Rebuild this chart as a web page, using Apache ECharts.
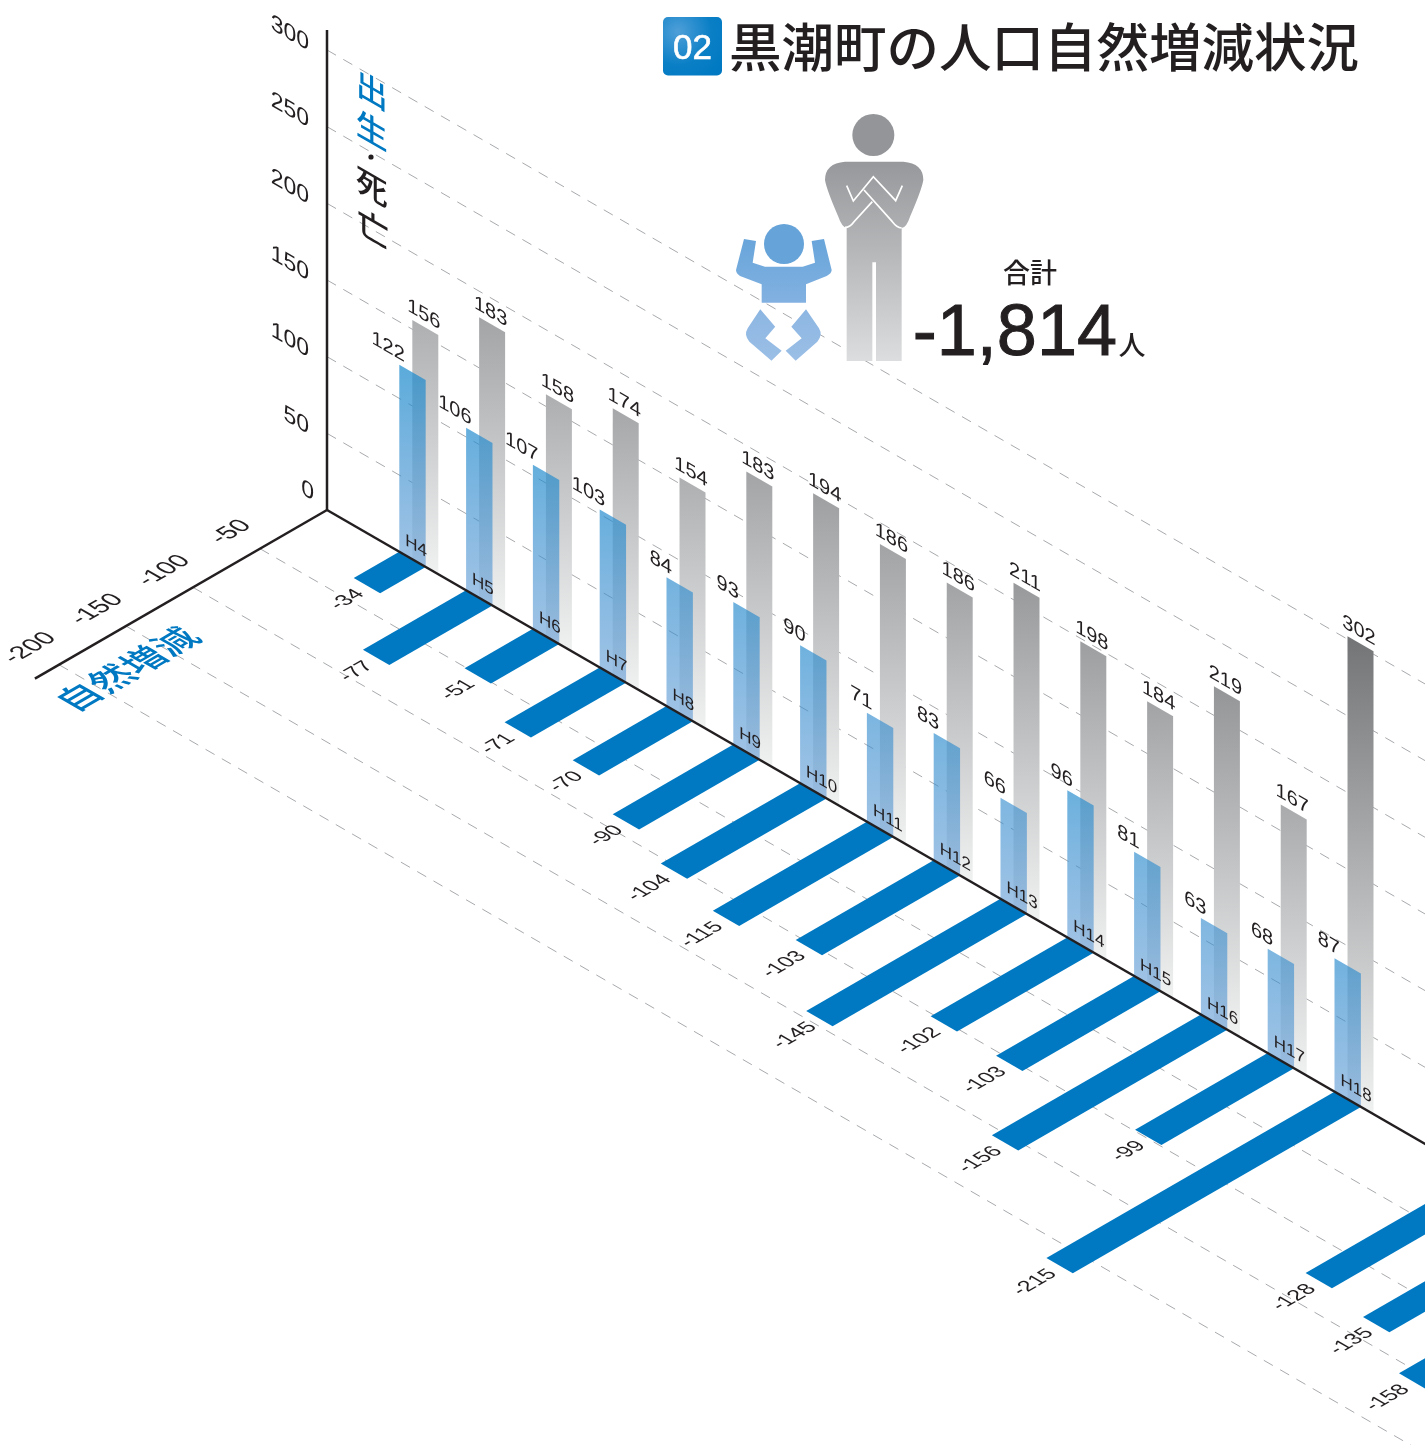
<!DOCTYPE html>
<html>
<head>
<meta charset="utf-8">
<style>html,body{margin:0;padding:0;background:#fff}#chart{width:1425px;height:1445px}</style>
<script src="https://cdn.jsdelivr.net/npm/echarts@6/dist/echarts.min.js"></script>
</head>
<body>
<div id="chart"></div>
<script>
// 年度(H18 と H19 の間は軸が途切れている)
const years = ['H4','H5','H6','H7','H8','H9','H10','H11','H12','H13','H14','H15','H16','H17','H18','','H19','H20','H21'];
const births = [122,106,107,103,84,93,90,71,83,66,96,81,63,68,87];
const deaths = [156,183,158,174,154,183,194,186,186,211,198,184,219,167,302];
const naturalChange = [-34,-77,-51,-71,-70,-90,-104,-115,-103,-145,-102,-103,-156,-99,-215,null,-128,-135,-158];
const planeTicks = [0,50,100,150,200,250,300];
const floorTicks = [-50,-100,-150,-200];
const titleText = '黒潮町の人口自然増減状況';
const totalText = '-1,814';

const OX = 327, OY = 510;
const TAN30 = Math.tan(Math.PI / 6), COS30 = Math.cos(Math.PI / 6);
const LATIN = '"Liberation Sans", "Noto Sans CJK JP", sans-serif';
const CJK = '"Noto Sans CJK JP", "Liberation Sans", sans-serif';
const INK = '#231f20', BLUE = '#0079c2', DASH = '#a8aaad';
const BREAK_SHIFT = 9;

// 立面: 縦はそのまま、横方向に 30° せん断
const wall = (p) => [p[0], p[1] + (p[0] - OX) * TAN30];
// 床面: カテゴリ軸は右下、値軸は左下へ 30°
const floor = (p) => {
  const u = p[0] - OX, w = p[1] - OY;
  return [OX + u - w * COS30, OY + u * TAN30 + w * 0.5];
};
const wallSkew = { skewY: -Math.PI / 6 };
const floorSkew = { scaleX: COS30, scaleY: 0.5, skewX: Math.PI / 3, skewY: Math.PI / 6 };

function label(pos, text, size, skew, extra) {
  return Object.assign({
    type: 'text', x: pos[0], y: pos[1],
    style: Object.assign({
      text, fill: INK, font: `${size}px ${LATIN}`, align: 'center', verticalAlign: 'middle'
    }, extra || {})
  }, skew || {});
}
function dashed(a, b) {
  return { type: 'line', shape: { x1: a[0], y1: a[1], x2: b[0], y2: b[1] },
    style: { stroke: DASH, lineWidth: 1, lineDash: [10.4, 8.4], fill: null } };
}
function solid(a, b) {
  return { type: 'line', shape: { x1: a[0], y1: a[1], x2: b[0], y2: b[1] },
    style: { stroke: INK, lineWidth: 2.5, fill: null } };
}
function quad(points, fill) {
  return { type: 'polygon', shape: { points }, style: { fill } };
}
function vGrad(top, bottom) {
  return new echarts.graphic.LinearGradient(0, 0, 0, 1, [
    { offset: 0, color: top }, { offset: 1, color: bottom }
  ]);
}
const mix = (a, b, t) => a + (b - a) * t;

function renderDeaths(params, api) {
  const i = api.value(0), v = api.value(1);
  const c = api.coord([i, 0]), top = api.coord([i, v])[1], bw = api.size([1, 0])[0];
  const l = c[0] - 0.097 * bw, r = c[0] + 0.292 * bw;
  const g = Math.round(236 - 0.4 * v);
  const poly = [[l, top], [r, top], [r, c[1]], [l, c[1]]].map(wall);
  return { type: 'group', children: [
    quad(poly, vGrad(`rgb(${g},${g + 1},${g + 3})`, '#f0f1f1')),
    label(wall([(l + r) / 2 - 1.5, top - 12]), String(v), 20, wallSkew)
  ] };
}
function renderBirths(params, api) {
  const i = api.value(0), v = api.value(1);
  const c = api.coord([i, 0]), top = api.coord([i, v])[1], bw = api.size([1, 0])[0];
  const l = c[0] - 0.292 * bw, r = c[0] + 0.103 * bw;
  const t = Math.min(1, v / 122);
  const poly = [[l, top], [r, top], [r, c[1]], [l, c[1]]].map(wall);
  const topCol = `rgba(${mix(84, 26, t)},${mix(146, 138, t)},${mix(209, 205, t)},${mix(0.55, 0.72, t)})`;
  return { type: 'group', children: [
    quad(poly, vGrad(topCol, 'rgba(84,146,209,0.55)')),
    label(wall([l + 5.5, top - 11]), String(v), 20, wallSkew, { align: 'right' }),
    label(wall([l + 6, c[1] - 15]), years[i], 17, wallSkew, { align: 'left' })
  ] };
}
function renderChange(params, api) {
  const i = api.value(0), v = api.value(1);
  const c = api.coord([i, 0]), tip = api.coord([i, v])[1], bw = api.size([1, 0])[0];
  const shift = i > 15 ? BREAK_SHIFT : 0;
  const l = c[0] - 0.292 * bw + shift, r = c[0] + 0.103 * bw + shift;
  const poly = [[l, c[1]], [r, c[1]], [r, tip], [l, tip]].map(floor);
  return { type: 'group', children: [
    quad(poly, BLUE),
    label(floor([(l + r) / 2 + 2, tip + 10]), String(v), 21, floorSkew, { align: 'right' })
  ] };
}
function renderWallGrid(params, api) {
  const v = api.value(1), a = api.coord([0, v]), far = api.coord([years.length - 1, v]);
  const kids = [];
  if (v !== 0) kids.push(dashed(wall([OX, a[1]]), wall([far[0] + 120, a[1]])));
  // 原点の 0 だけ軸の交点を避けて少し上へ
  const anchor = v === 0 ? [314, a[1] - 8] : [309, a[1] + 5];
  kids.push(label(wall(anchor), String(v), 23, wallSkew, { align: 'right' }));
  return { type: 'group', children: kids };
}
function renderFloorGrid(params, api) {
  const v = api.value(1), a = api.coord([0, v]), far = api.coord([years.length - 1, v]);
  return { type: 'group', children: [
    dashed(floor([OX, a[1]]), floor([far[0] + 400, a[1]])),
    label(floor([OX - 29, a[1]]), String(v), 25, floorSkew)
  ] };
}
function renderAxes(params, api) {
  const zero = api.coord([0, 0])[1];
  const far = api.coord([years.length - 1, 0])[0] + 200;
  return { type: 'group', children: [
    solid([OX, zero], [OX, api.coord([0, 313])[1]]),
    solid([OX, zero], wall([far, zero]))
  ] };
}
function renderAxisEnd(params, api) {
  return solid([OX, OY], floor([OX, api.coord([0, -218])[1]]));
}
// 軸タイトル(一文字ずつ縦に積む)
function renderAxisTitles() {
  const cjk = (pos, ch, size, fill, skew) =>
    label(pos, ch, size, skew, { font: `500 ${size}px ${CJK}`, fill });
  return { type: 'group', children: [
    cjk([371.7, 90], '出', 32, BLUE, wallSkew),
    cjk([371.7, 130], '生', 32, BLUE, wallSkew),
    { type: 'circle', shape: { cx: 371, cy: 157, r: 2.6 }, style: { fill: INK } },
    cjk([371.7, 186], '死', 32, INK, wallSkew),
    cjk([373, 228], '亡', 32, INK, wallSkew),
    cjk([127, 669], '自然増減', 37, BLUE, floorSkew)
  ] };
}
// 見出し番号と人物アイコン、合計
function renderDecor() {
  const s = 1 / 3, X = (v) => 650 + v * s, Y = (v) => v * s;
  const path = (d, x0, y0, x1, y1, fill, extra) => ({
    type: 'path',
    shape: { pathData: d, layout: 'cover', x: X(x0), y: Y(y0), width: (x1 - x0) * s, height: (y1 - y0) * s },
    style: Object.assign({ fill }, extra || {})
  });
  const white = (d, x0, y0, x1, y1) => path(d, x0, y0, x1, y1, null, { stroke: '#fff', lineWidth: 1.7, fill: null });
  return { type: 'group', children: [
    { type: 'rect', shape: { x: 663, y: 17, width: 59, height: 58.5, r: 5 },
      style: { fill: new echarts.graphic.RadialGradient(0.25, 0.25, 0.95, [
        { offset: 0, color: '#4f9fd8' }, { offset: 0.6, color: '#0a7fc6' }, { offset: 1, color: '#0079c2' }]) } },
    label([692.5, 49], '02', 35, null, { fill: '#fff', stroke: '#fff', lineWidth: 0.6 }),
    { type: 'circle', shape: { cx: X(670), cy: Y(405), r: 21 }, style: { fill: '#939598' } },
    path('M585 485L760 485Q820 490 820 540Q815 570 780 650Q770 682 755 684L755 1083L678 1083L678 787L667 787L667 1083L590 1083L590 684Q575 680 565 650Q530 570 525 540Q525 490 585 485Z',
      525, 485, 820, 1083, vGrad('#97989b', '#dcddde')),
    white('M590 557L610 603L670 530L737 602L757 557', 590, 530, 757, 603),
    white('M642 570L727 665Q740 682 755 684', 642, 570, 755, 684),
    white('M667 605L612 665Q600 682 585 682', 585, 605, 667, 682),
    { type: 'circle', shape: { cx: X(402), cy: Y(732), r: 20 }, style: { fill: '#65a3d9' } },
    path('M282 717L318 723L308 788L345 800L458 800L495 788L485 723L522 717L545 810Q545 820 530 828L468 853L468 908L335 908L335 853L270 828Q258 820 258 810Z',
      258, 717, 545, 908, vGrad('#68a5da', '#82b1e1')),
    path('M332 928L376 980L347 1015L395 1052L365 1082L300 1025Q283 1005 295 985Z', 288, 928, 395, 1082, vGrad('#8cb6e2', '#9bbfe6')),
    path('M468 928L424 980L455 1015L407 1052L437 1082L502 1025Q519 1005 507 985Z', 407, 928, 512, 1082, vGrad('#8cb6e2', '#9bbfe6')),
    label([1030, 273], '合計', 27, null, { font: `500 27px ${CJK}` }),
    label([1117, 335], totalText, 72, null, { align: 'right', stroke: INK, lineWidth: 1 }),
    label([1132, 345], '人', 27, null, { font: `500 27px ${CJK}` })
  ] };
}

const custom = (name, renderItem, data, axis, z) => ({
  type: 'custom', name, renderItem, data, silent: true, z,
  coordinateSystem: axis === null ? 'none' : 'cartesian2d',
  xAxisIndex: axis === null ? undefined : axis,
  yAxisIndex: axis === null ? undefined : axis,
  clip: false
});
const pairs = (values) => values.map((v, i) => [i, v]).filter((d) => d[1] !== null);

const chart = echarts.init(document.getElementById('chart'), null, { renderer: 'canvas' });
chart.setOption({
  animation: false,
  backgroundColor: '#fff',
  title: {
    text: titleText, left: 724, top: 16,
    textStyle: { fontFamily: CJK, fontSize: 52.5, fontWeight: 500, color: INK }
  },
  // 立面(出生・死亡)と床面(自然増減)で別々のスケールを持つ
  grid: [
    { left: 385.4, top: 50, width: 1269.2, height: 460, outerBoundsMode: 'none' },
    { left: 385.4, top: 510, width: 1269.2, height: 386.8, outerBoundsMode: 'none' }
  ],
  xAxis: [
    { type: 'category', data: years, gridIndex: 0, show: false },
    { type: 'category', data: years, gridIndex: 1, show: false }
  ],
  yAxis: [
    { type: 'value', min: 0, max: 300, interval: 50, gridIndex: 0, show: false },
    { type: 'value', min: -250, max: 0, interval: 50, gridIndex: 1, show: false }
  ],
  series: [
    custom('wallGrid', renderWallGrid, planeTicks.map((t) => [0, t]), 0, 1),
    custom('floorGrid', renderFloorGrid, floorTicks.map((t) => [0, t]), 1, 1),
    custom('死亡', renderDeaths, pairs(deaths), 0, 2),
    custom('出生', renderBirths, pairs(births), 0, 3),
    custom('自然増減', renderChange, pairs(naturalChange), 1, 2),
    custom('axes', renderAxes, [[0, 0]], 0, 4),
    custom('floorAxis', renderAxisEnd, [[0, 0]], 1, 4),
    custom('axisTitles', renderAxisTitles, [0], null, 5),
    custom('decor', renderDecor, [0], null, 5)
  ]
});
</script>
</body>
</html>
